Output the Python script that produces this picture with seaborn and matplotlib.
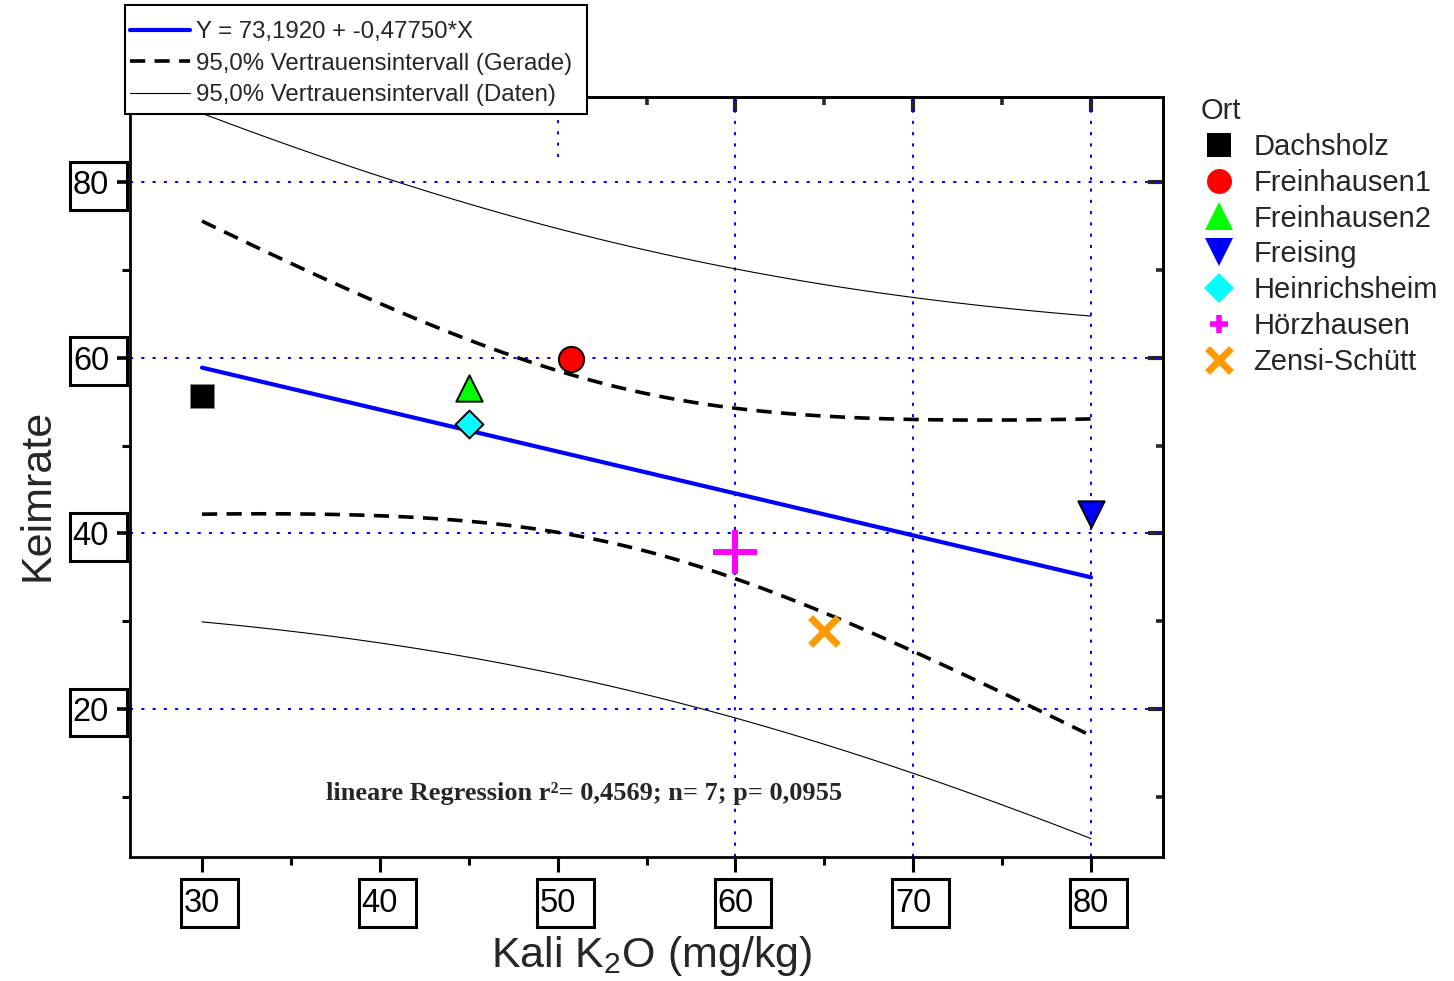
import numpy as np
import pandas as pd
import matplotlib
matplotlib.use("Agg")
import matplotlib.pyplot as plt
import seaborn as sns
from matplotlib.lines import Line2D
from matplotlib.path import Path
from matplotlib.ticker import FixedLocator

# ---- Messwerte je Standort -------------------------------------------------
orte = ["Dachsholz", "Freinhausen1", "Freinhausen2", "Freising",
        "Heinrichsheim", "Hörzhausen", "Zensi-Schütt"]
kali_k2o = [30.0, 50.75, 45.0, 80.0, 45.0, 60.0, 65.0]
keimrate = [55.6, 59.8, 56.5, 42.2, 52.4, 37.9, 28.9]

# ---- Ergebnis der linearen Regression ---------------------------------------
achsenabschnitt = 73.1920
steigung = -0.47750
r_quadrat = 0.4569
p_wert = 0.0955
t_krit = 2.5706          # Student-t, 97,5 %, df = n - 2 = 5

# ---- Achsen -----------------------------------------------------------------
x_ticks = [30, 40, 50, 60, 70, 80]
x_minor = [35, 45, 55, 65, 75]
y_ticks = [20, 40, 60, 80]
y_minor = [10, 30, 50, 70]
x_grid = [60, 70, 80]
x_lim = (25.95, 84.05)
y_lim = (3.15, 89.68)

farben = {
    "Dachsholz": "#000000",
    "Freinhausen1": "#ff0000",
    "Freinhausen2": "#00ff00",
    "Freising": "#0000ff",
    "Heinrichsheim": "#00ffff",
    "Hörzhausen": "#ff00ff",
    "Zensi-Schütt": "#ff9900",
}
# marker, Fläche im Diagramm, Randbreite, Randfarbe, Legendengröße, Legenden-Strich
stil = {
    "Dachsholz":     ("s", 290, 0.6, "#888888", 17, 0),
    "Freinhausen1":  ("o", 330, 1.4, "black", 18, 0),
    "Freinhausen2":  ("^", 360, 1.4, "black", 20, 0),
    "Freising":      ("v", 360, 1.4, "black", 20, 0),
    "Heinrichsheim": ("D", 200, 1.4, "black", 15, 0),
    "Hörzhausen":    ("+", 1000, 4.3, None, 13, 4),
    "Zensi-Schütt":  ("x", 400, 5.0, None, 17, 5),
}


def kasten(x0, y0, width, height, mutation_size):
    """Rahmen um die Achsenzahlen, rechts etwas breiter."""
    li, re, vt = 0.08 * mutation_size, 0.55 * mutation_size, 0.26 * mutation_size
    xa, xb = x0 - li, x0 + width + re
    ya, yb = y0 - vt, y0 + height + vt
    return Path([(xa, ya), (xb, ya), (xb, yb), (xa, yb), (xa, ya)], closed=True)


def legendenrahmen(x0, y0, width, height, mutation_size):
    """Legendenrahmen, oben und rechts etwas großzügiger."""
    ob, un, re = 0.46 * mutation_size, 0.12 * mutation_size, 0.37 * mutation_size
    xa, xb = x0, x0 + width + re
    ya, yb = y0 - un, y0 + height + ob
    return Path([(xa, ya), (xb, ya), (xb, yb), (xa, yb), (xa, ya)], closed=True)


sns.set_style("white")
plt.rcParams["font.family"] = ["Liberation Sans", "DejaVu Sans"]

W, H = 1454, 981
fig = plt.figure(figsize=(W / 100, H / 100), dpi=100)
ax = fig.add_axes([130 / W, 1 - 857 / H, (1163 - 130) / W, (857 - 97) / H])
ax.set_xlim(*x_lim)
ax.set_ylim(*y_lim)

# ---- Gitternetz -------------------------------------------------------------
grid_kw = dict(color="#0000ff", lw=1.4, ls=(0, (1.6, 4.2)), zorder=1)
for yv in y_ticks:
    ax.axhline(yv, **grid_kw)
for xv in x_grid:
    ax.axvline(xv, **grid_kw)
ax.axvline(50, ymin=(82.85 - y_lim[0]) / (y_lim[1] - y_lim[0]), ymax=1, **grid_kw)

# ---- Regressionsgerade und Vertrauensbereiche --------------------------------
xa = np.asarray(kali_k2o)
ya = np.asarray(keimrate)
n = len(xa)
resid = ya - (achsenabschnitt + steigung * xa)
s_res = np.sqrt(np.sum(resid ** 2) / (n - 2))
sxx = np.sum((xa - xa.mean()) ** 2)

xs = np.linspace(xa.min(), xa.max(), 80)
fit = achsenabschnitt + steigung * xs
h_mean = t_krit * s_res * np.sqrt(1 / n + (xs - xa.mean()) ** 2 / sxx)
h_pred = t_krit * s_res * np.sqrt(1 + 1 / n + (xs - xa.mean()) ** 2 / sxx)
kurven = pd.DataFrame({
    "x": xs, "fit": fit,
    "g_lo": fit - h_mean, "g_hi": fit + h_mean,
    "d_lo": fit - h_pred, "d_hi": fit + h_pred,
})

blau_kw = dict(color="#0000ff", lw=3.0)
gerade_kw = dict(color="black", lw=2.6, linestyle=(0, (4.2, 2.6)))
daten_kw = dict(color="black", lw=0.8)

for col in ["d_lo", "d_hi"]:
    sns.lineplot(data=kurven, x="x", y=col, ax=ax, zorder=2, **daten_kw)
for col in ["g_lo", "g_hi"]:
    sns.lineplot(data=kurven, x="x", y=col, ax=ax, zorder=2, **gerade_kw)
sns.lineplot(data=kurven, x="x", y="fit", ax=ax, zorder=3, **blau_kw)

# ---- Messpunkte --------------------------------------------------------------
for ort, xv, yv in zip(orte, kali_k2o, keimrate):
    m, s, lw, ec, _, _ = stil[ort]
    kw = dict(marker=m, s=s, color=farben[ort], linewidth=lw)
    if ec is not None:
        kw["edgecolor"] = ec
    sns.scatterplot(x=[xv], y=[yv], ax=ax, zorder=5, legend=False, **kw)

ax.text(51.5, 10.4,
        "lineare Regression r²= " + f"{r_quadrat:.4f}".replace(".", ",")
        + f"; n= {n}; p= " + f"{p_wert:.4f}".replace(".", ","),
        ha="center", va="center", fontsize=19, fontweight="bold",
        family=["Liberation Serif", "DejaVu Serif"], zorder=4,
        bbox=dict(boxstyle="square,pad=0.05", fc="white", ec="none"))

# ---- Achsen, Ticks, Beschriftung --------------------------------------------
for sp in ax.spines.values():
    sp.set_color("black")
    sp.set_linewidth(2.0)

ax.set_xticks(x_ticks)
ax.set_xticklabels([str(t) for t in x_ticks])
ax.set_yticks(y_ticks)
ax.set_yticklabels([str(t) for t in y_ticks])
ax.xaxis.set_minor_locator(FixedLocator(x_minor))
ax.yaxis.set_minor_locator(FixedLocator(y_minor))
ax.tick_params(bottom=True, left=True, top=False, right=False, which="both")
ax.tick_params(axis="x", which="major", direction="out", length=10.8, width=2.2,
               pad=11.2, labelsize=23.5, colors="black")
ax.tick_params(axis="y", which="major", direction="out", length=9.4, width=2.6,
               pad=5.7, labelsize=23.5, colors="black")
ax.tick_params(axis="both", which="minor", direction="out", length=5.8, width=2.2,
               colors="black")
box = dict(boxstyle=kasten, fc="none", ec="black", lw=2.2)
for lab in ax.get_xticklabels() + ax.get_yticklabels():
    lab.set_bbox(box)

sec_x = ax.secondary_xaxis("top")
sec_x.set_xticks(x_ticks)
sec_x.xaxis.set_minor_locator(FixedLocator(x_minor))
sec_x.tick_params(which="major", direction="in", length=10.8, width=3, labeltop=False)
sec_x.tick_params(which="minor", direction="in", length=5.4, width=2.6)
sec_x.spines["top"].set_linewidth(2.0)
sec_y = ax.secondary_yaxis("right")
sec_y.set_yticks(y_ticks)
sec_y.yaxis.set_minor_locator(FixedLocator(y_minor))
sec_y.tick_params(which="major", direction="in", length=10.8, width=3, labelright=False)
sec_y.tick_params(which="minor", direction="in", length=5.4, width=2.6)
sec_y.spines["right"].set_linewidth(2.0)

ax.set_xlabel(r"Kali K$\mathregular{_2}$O (mg/kg)", fontsize=31)
ax.set_ylabel("Keimrate", fontsize=31)
ax.xaxis.set_label_coords(0.505, -0.101)
ax.yaxis.set_label_coords(-0.07, 0.476)

# ---- Legenden ---------------------------------------------------------------
gl_text = (f"Y = {achsenabschnitt:.4f} + {steigung:.5f}*X").replace(".", ",")
leg1 = fig.legend(
    [Line2D([], [], **blau_kw), Line2D([], [], **gerade_kw), Line2D([], [], **daten_kw)],
    [gl_text, "95,0% Vertrauensintervall (Gerade)", "95,0% Vertrauensintervall (Daten)"],
    loc="upper left", bbox_to_anchor=(125 / W, 1 - 16 / H), borderaxespad=0,
    fontsize=17.3, handlelength=2.5, handletextpad=0.25, labelspacing=0.39,
    borderpad=0.22, fancybox=False, framealpha=1, facecolor="white",
    edgecolor="black")
leg1.get_frame().set_linewidth(1.5)
leg1.get_frame().set_boxstyle(legendenrahmen)

ort_handles = []
for ort in orte:
    m, _, _, _, ms, mew = stil[ort]
    ort_handles.append(Line2D([], [], ls="", marker=m, markersize=ms,
                              color=farben[ort], markeredgecolor=farben[ort],
                              markeredgewidth=mew))
fig.legend(ort_handles, orte, title="Ort", loc="upper left",
           bbox_to_anchor=(1201 / W, 1 - 97 / H), borderaxespad=0, frameon=False,
           fontsize=21, title_fontsize=21, alignment="left", handlelength=1.2,
           handletextpad=0.6, labelspacing=0.27, borderpad=0)

fig.savefig("out.png", dpi=100)
